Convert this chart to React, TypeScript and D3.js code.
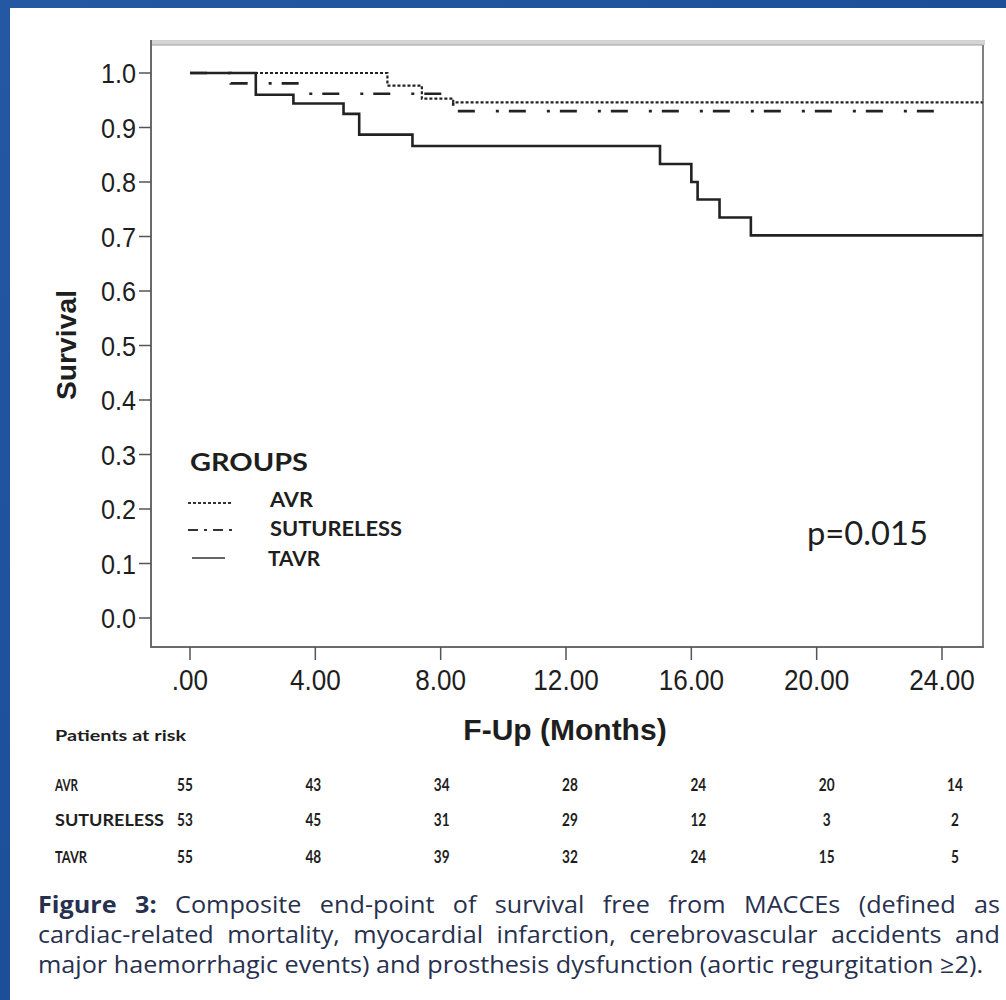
import React, { useMemo } from 'react';
import * as d3 from 'd3';

// ---------- data ----------
const xTickValues = [0, 4, 8, 12, 16, 20, 24];
const xTickLabels = ['.00', '4.00', '8.00', '12.00', '16.00', '20.00', '24.00'];
const yTickValues = [0, 0.1, 0.2, 0.3, 0.4, 0.5, 0.6, 0.7, 0.8, 0.9, 1.0];
const yTickLabels = ['0.0', '0.1', '0.2', '0.3', '0.4', '0.5', '0.6', '0.7', '0.8', '0.9', '1.0'];

const avrTime = [0, 6.3, 7.4, 8.4, 25.3];
const avrSurv = [1.0, 0.977, 0.953, 0.946, 0.946];

const sutTime = [0, 1.3, 3.7, 8.4, 24.1];
const sutSurv = [1.0, 0.981, 0.962, 0.93, 0.93];

const tavrTime = [0, 2.1, 3.3, 4.9, 5.4, 7.1, 15.0, 16.0, 16.2, 16.9, 17.9, 25.3];
const tavrSurv = [1.0, 0.96, 0.944, 0.925, 0.887, 0.866, 0.833, 0.8, 0.768, 0.735, 0.702, 0.702];

const groupNames = ['AVR', 'SUTURELESS', 'TAVR'];
const riskTimes = [0, 4, 8, 12, 16, 20, 24];
const riskAVR = [55, 43, 34, 28, 24, 20, 14];
const riskSUT = [53, 45, 31, 29, 12, 3, 2];
const riskTAVR = [55, 48, 39, 32, 24, 15, 5];

const captionLines = [
  'Figure 3: Composite end-point of survival free from MACCEs (defined as',
  'cardiac-related mortality, myocardial infarction, cerebrovascular accidents and',
  'major haemorrhagic events) and prosthesis dysfunction (aortic regurgitation \u22652).',
];

// ---------- helpers ----------
let ctx: CanvasRenderingContext2D | null = null;
function measure(text: string, font: string): number {
  if (!ctx) ctx = document.createElement('canvas').getContext('2d');
  if (!ctx) return text.length * 10;
  ctx.font = font;
  return ctx.measureText(text).width;
}

const CAP_SIZE = 24;
const CAP_FAMILY = 'Open Sans';
const CAP_X0 = 38;
const CAP_X1 = 1000;
const CAP_LAST_W = 945;

function layoutLine(line: string, x0: number, x1: number, justify: boolean, boldCount: number) {
  const words = line.split(' ');
  const items = words.map((w, i) => {
    const bold = i < boldCount;
    const font = `${bold ? 700 : 400} ${CAP_SIZE}px "${CAP_FAMILY}"`;
    return { t: w, bold, w: measure(w, font) };
  });
  const total = items.reduce((s, d) => s + d.w, 0);
  const space = measure(' ', `400 ${CAP_SIZE}px "${CAP_FAMILY}"`);
  const gap = justify ? (x1 - x0 - total) / (items.length - 1) : space;
  let cx = x0;
  return items.map((d) => {
    const r = { ...d, x: cx };
    cx += d.w + gap;
    return r;
  });
}

export default function App() {
  const x = d3.scaleLinear().domain([0, 24]).range([190, 942]);
  const y = d3.scaleLinear().domain([0, 1]).range([618, 73]);
  const riskX = d3.scaleLinear().domain([0, 24]).range([185, 955]);

  const line = d3
    .line<[number, number]>()
    .x((d) => x(d[0]))
    .y((d) => y(d[1]))
    .curve(d3.curveStepAfter);

  const avrPath = line(avrTime.map((t, i) => [t, avrSurv[i]]) as [number, number][]) || '';
  const sutPath = line(sutTime.map((t, i) => [t, sutSurv[i]]) as [number, number][]) || '';
  const tavrPath = line(tavrTime.map((t, i) => [t, tavrSurv[i]]) as [number, number][]) || '';

  const plotLeft = 151;
  const plotRight = 983;
  const plotTop = 45;
  const plotBottom = 647;

  const { caption, k } = useMemo(() => {
    const natural = measure(captionLines[2], `400 ${CAP_SIZE}px "${CAP_FAMILY}"`);
    const kk = natural > 0 ? CAP_LAST_W / natural : 1;
    const x1 = CAP_X0 + (CAP_X1 - CAP_X0) / kk;
    return {
      k: kk,
      caption: [
        layoutLine(captionLines[0], CAP_X0, x1, true, 2),
        layoutLine(captionLines[1], CAP_X0, x1, true, 0),
        layoutLine(captionLines[2], CAP_X0, x1, false, 0),
      ],
    };
  }, []);
  const captionY = [913, 943, 973];

  const riskRows = [riskAVR, riskSUT, riskTAVR];
  const riskRowY = [791, 826, 863];
  const riskLabelW = [23, 109, 32];

  const axisFont = 'Liberation Sans, Arial, sans-serif';
  const ink = '#1e1e1e';

  return (
    <svg
      width={1006}
      height={1000}
      style={{ position: 'absolute', left: 0, top: 0, display: 'block' }}
    >
      <defs>
        <linearGradient id="bg" x1="0" y1="0" x2="1" y2="1">
          <stop offset="0" stopColor="#2458a3" />
          <stop offset="0.5" stopColor="#1c4f98" />
          <stop offset="1" stopColor="#0f3b7e" />
        </linearGradient>
      </defs>
      <rect x={0} y={0} width={1006} height={1000} fill="url(#bg)" />
      <rect x={10} y={8} width={996} height={992} fill="#ffffff" />

      {/* plot frame */}
      <rect x={plotLeft} y={plotTop} width={plotRight - plotLeft} height={plotBottom - plotTop} fill="#ffffff" />
      <rect x={plotLeft} y={plotTop - 5} width={plotRight - plotLeft + 2} height={5} fill="#d4d4d4" />
      <line x1={plotLeft} x2={plotRight} y1={plotTop} y2={plotTop} stroke="#a0a0a0" strokeWidth={1} />
      <line x1={plotRight} x2={plotRight} y1={plotTop} y2={plotBottom} stroke="#808080" strokeWidth={2} />
      <line x1={plotLeft} x2={plotLeft} y1={plotTop - 5} y2={plotBottom + 1} stroke="#6a6a6a" strokeWidth={2} />
      <line x1={plotLeft} x2={plotRight + 1} y1={plotBottom} y2={plotBottom} stroke="#6a6a6a" strokeWidth={2} />

      {/* y axis ticks */}
      {yTickValues.map((v, i) => (
        <g key={'yt' + i}>
          <line x1={139} x2={plotLeft} y1={y(v)} y2={y(v)} stroke="#555" strokeWidth={1.5} />
          <text
            transform={`translate(136,${y(v) + 10}) scale(0.9,1)`}
            textAnchor="end"
            fontFamily={axisFont}
            fontSize={28}
            fill={ink}
          >
            {yTickLabels[i]}
          </text>
        </g>
      ))}

      {/* x axis ticks */}
      {xTickValues.map((v, i) => (
        <g key={'xt' + i}>
          <line x1={x(v)} x2={x(v)} y1={plotBottom} y2={plotBottom + 13} stroke="#555" strokeWidth={1.5} />
          <text
            transform={`translate(${x(v)},690) scale(0.9,1)`}
            textAnchor="middle"
            fontFamily={axisFont}
            fontSize={29}
            fill={ink}
          >
            {xTickLabels[i]}
          </text>
        </g>
      ))}

      {/* axis titles */}
      <text
        transform="translate(76,345) rotate(-90)"
        textAnchor="middle"
        fontFamily={axisFont}
        fontWeight={700}
        fontSize={27}
        fill={ink}
        textLength={110}
        lengthAdjust="spacingAndGlyphs"
      >
        Survival
      </text>
      <text
        x={565}
        y={740}
        textAnchor="middle"
        fontFamily={axisFont}
        fontWeight={700}
        fontSize={30}
        fill={ink}
      >
        F-Up (Months)
      </text>

      {/* curves */}
      <path d={avrPath} fill="none" stroke="#222" strokeWidth={2.2} strokeDasharray="3,2" />
      <path d={sutPath} fill="none" stroke="#222" strokeWidth={2.6} strokeDasharray="17,21,3,10" />
      <path d={tavrPath} fill="none" stroke="#222" strokeWidth={2.6} />

      {/* legend */}
      <text x={190} y={471} fontFamily="Lato" fontWeight={700} fontSize={24} fill={ink} textLength={118} lengthAdjust="spacingAndGlyphs">
        GROUPS
      </text>
      <line x1={188} x2={232} y1={503} y2={503} stroke="#333" strokeWidth={2} strokeDasharray="3,2" />
      <line x1={188} x2={232} y1={530} y2={530} stroke="#333" strokeWidth={2} strokeDasharray="10,6,3,6" />
      <line x1={192} x2={225} y1={558} y2={558} stroke="#333" strokeWidth={1.5} />
      {groupNames.map((g, i) => (
        <text
          key={'lg' + i}
          x={i === 2 ? 268 : 270}
          y={[507, 536, 566][i]}
          fontFamily="Lato"
          fontWeight={700}
          fontSize={20}
          fill={ink}
          textLength={[43, 132, 52][i]}
          lengthAdjust="spacingAndGlyphs"
        >
          {g}
        </text>
      ))}

      <text x={807} y={545} fontFamily="Lato" fontSize={32} fill={ink} textLength={121} lengthAdjust="spacingAndGlyphs">
        p=0.015
      </text>

      {/* patients at risk */}
      <text x={55} y={741} fontFamily="Lato" fontWeight={700} fontSize={15} fill={ink} textLength={131} lengthAdjust="spacingAndGlyphs">
        Patients at risk
      </text>
      {riskRows.map((row, r) => (
        <g key={'rr' + r}>
          <text
            x={55}
            y={riskRowY[r]}
            fontFamily="Lato"
            fontWeight={700}
            fontSize={17}
            fill={ink}
            textLength={riskLabelW[r]}
            lengthAdjust="spacingAndGlyphs"
          >
            {groupNames[r]}
          </text>
          {row.map((v, j) => (
            <text
              key={'rv' + j}
              transform={`translate(${riskX(riskTimes[j])},${riskRowY[r]}) scale(0.8,1)`}
              textAnchor="middle"
              fontFamily="Lato"
              fontWeight={700}
              fontSize={17}
              fill={ink}
            >
              {v}
            </text>
          ))}
        </g>
      ))}

      {/* caption */}
      <g transform={`translate(${CAP_X0},0) scale(${k},1) translate(${-CAP_X0},0)`}>
        {caption.map((ln, li) =>
          ln.map((w, wi) => (
            <text
              key={`c${li}-${wi}`}
              x={w.x}
              y={captionY[li]}
              fontFamily={CAP_FAMILY}
              fontWeight={w.bold ? 700 : 400}
              fontSize={CAP_SIZE}
              fill="#27304e"
            >
              {w.t}
            </text>
          ))
        )}
      </g>
    </svg>
  );
}
